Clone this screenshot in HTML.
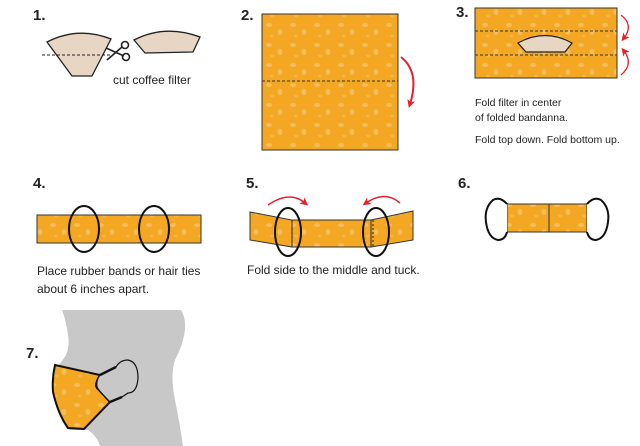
<!DOCTYPE html>
<html><head><meta charset="utf-8"><style>
html,body{margin:0;padding:0;background:#fff;width:640px;height:446px;overflow:hidden}
svg text{font-family:"Liberation Sans","DejaVu Sans",sans-serif}
</style></head><body>
<svg width="640" height="446" viewBox="0 0 640 446" xmlns="http://www.w3.org/2000/svg">
<defs>
<pattern id="p" width="24" height="20" patternUnits="userSpaceOnUse">
<rect width="24" height="20" fill="#f4a722"/>
<ellipse cx="5" cy="5" rx="3" ry="2" fill="#f7bd5a"/>
<ellipse cx="16" cy="12" rx="2.5" ry="3" fill="#f7bd5a"/>
<ellipse cx="8" cy="16" rx="2" ry="1.5" fill="#f6b54a"/>
</pattern>
<marker id="ah" markerWidth="8" markerHeight="8" refX="4" refY="4" orient="auto" markerUnits="userSpaceOnUse"><path d="M0,0 L8,4 L0,8 L2,4 Z" fill="#e8202a"/></marker>
</defs>
<g font-weight="bold" font-size="15" fill="#222">
<text x="33" y="20">1.</text><text x="241" y="20">2.</text><text x="456" y="17">3.</text>
<text x="33" y="188">4.</text><text x="246" y="188">5.</text><text x="458" y="188">6.</text>
<text x="26" y="358">7.</text>
</g>
<!-- step 1 -->
<path d="M47,42 Q78,26 111,39 L92,76 L72,76 Z" fill="#e7d6c3" stroke="#222" stroke-width="1.3"/>
<line x1="42" y1="55" x2="110" y2="55" stroke="#222" stroke-dasharray="3,2"/>
<g stroke="#222" stroke-width="1.6" fill="none"><line x1="106" y1="48" x2="124" y2="56"/><line x1="107" y1="60" x2="122" y2="47"/><circle cx="125" cy="45" r="3.5"/><circle cx="126" cy="57" r="3.5"/></g>
<path d="M134,40 Q165,24 200,37 L193,52 L145,53 Z" fill="#e7d6c3" stroke="#222" stroke-width="1.3"/>
<text x="113" y="84" font-size="12" fill="#222">cut coffee filter</text>
<!-- step 2 -->
<rect x="262" y="14" width="136" height="136" fill="url(#p)" stroke="#333" stroke-width="1"/>
<line x1="262" y1="81" x2="398" y2="81" stroke="#333" stroke-dasharray="3,2"/>
<path d="M401,57 Q420,72 410,104" fill="none" stroke="#e8202a" stroke-width="2" marker-end="url(#ah)"/>
<!-- step 3 -->
<rect x="475" y="8" width="142" height="70" fill="url(#p)" stroke="#333"/>
<line x1="475" y1="31" x2="617" y2="31" stroke="#333" stroke-dasharray="3,2"/>
<line x1="475" y1="55" x2="617" y2="55" stroke="#333" stroke-dasharray="3,2"/>
<path d="M518,43 Q545,28 572,43 L565,52 L526,52 Z" fill="#e7d6c3" stroke="#222" stroke-width="1.2"/>
<path d="M621,15 Q634,25 624,38" fill="none" stroke="#e8202a" stroke-width="1.3" marker-end="url(#ah)"/>
<path d="M621,75 Q634,64 624,51" fill="none" stroke="#e8202a" stroke-width="1.3" marker-end="url(#ah)"/>
<g font-size="10.5" fill="#222"><text x="475" y="106">Fold filter in center</text><text x="475" y="121">of folded bandanna.</text><text x="475" y="143">Fold top down. Fold bottom up.</text></g>
<!-- step 4 -->
<rect x="37" y="215" width="164" height="28" fill="url(#p)" stroke="#333"/>
<ellipse cx="84" cy="229" rx="15" ry="23" fill="none" stroke="#111" stroke-width="2"/>
<ellipse cx="154" cy="229" rx="15" ry="23" fill="none" stroke="#111" stroke-width="2"/>
<g font-size="12" fill="#222"><text x="37" y="275">Place rubber bands or hair ties</text><text x="37" y="293">about 6 inches apart.</text></g>
<!-- step 5 -->
<path d="M250,212 L292,220 L292,247 L250,240 Z" fill="url(#p)" stroke="#333"/>
<rect x="292" y="220" width="79" height="27" fill="url(#p)" stroke="#333"/>
<path d="M371,220 L413,211 L413,240 L371,247 Z" fill="url(#p)" stroke="#333"/>
<line x1="292" y1="220" x2="292" y2="247" stroke="#222" stroke-dasharray="2,2"/>
<line x1="373" y1="220" x2="373" y2="247" stroke="#222" stroke-dasharray="2,2"/>
<ellipse cx="288" cy="232" rx="13" ry="24" fill="none" stroke="#111" stroke-width="2"/>
<ellipse cx="376" cy="232" rx="13" ry="24" fill="none" stroke="#111" stroke-width="2"/>
<path d="M268,205 Q290,190 305,203" fill="none" stroke="#e8202a" stroke-width="1.5" marker-end="url(#ah)"/>
<path d="M400,203 Q385,190 366,203" fill="none" stroke="#e8202a" stroke-width="1.5" marker-end="url(#ah)"/>
<text x="247" y="274" font-size="12" fill="#222">Fold side to the middle and tuck.</text>
<!-- step 6 -->
<rect x="507" y="204" width="80" height="28" fill="url(#p)" stroke="#333"/>
<line x1="549" y1="204" x2="549" y2="232" stroke="#333"/>
<path d="M507,204 Q500,196 493,200 Q484,208 486,222 Q488,238 498,240 Q505,240 507,232" fill="#fff" stroke="#111" stroke-width="2"/>
<path d="M587,204 Q594,196 601,200 Q610,208 608,222 Q606,238 596,240 Q589,240 587,232" fill="#fff" stroke="#111" stroke-width="2"/>
<!-- step 7 -->
<path d="M62,310 L181,310 Q186,318 185,330 Q183,345 175,360 Q170,375 175,400 Q180,425 183,446 L100,446 Q97,436 88,430 L70,430 L56,368 Q62,362 66,355 Q70,345 68,335 Q66,320 62,310 Z" fill="#c8c8c8"/>
<path d="M55,365 L100,375 Q94,385 97,388 L110,402 L84,429 L68,428 Q58,414 53,392 Q52,378 55,365 Z" fill="url(#p)" stroke="#111" stroke-width="2"/>
<path d="M100,375 L116,367 Q120,360 128,360 Q138,362 138,378 Q137,393 128,393 L122,397 L110,402 Q98,390 97,387 Q96,380 100,375 Z" fill="#c8c8c8" stroke="#111" stroke-width="1.2"/>
<path d="M100,375 L116,367 M110,402 L122,397" stroke="#111" stroke-width="2.4" fill="none"/>
</svg>
</body></html>
